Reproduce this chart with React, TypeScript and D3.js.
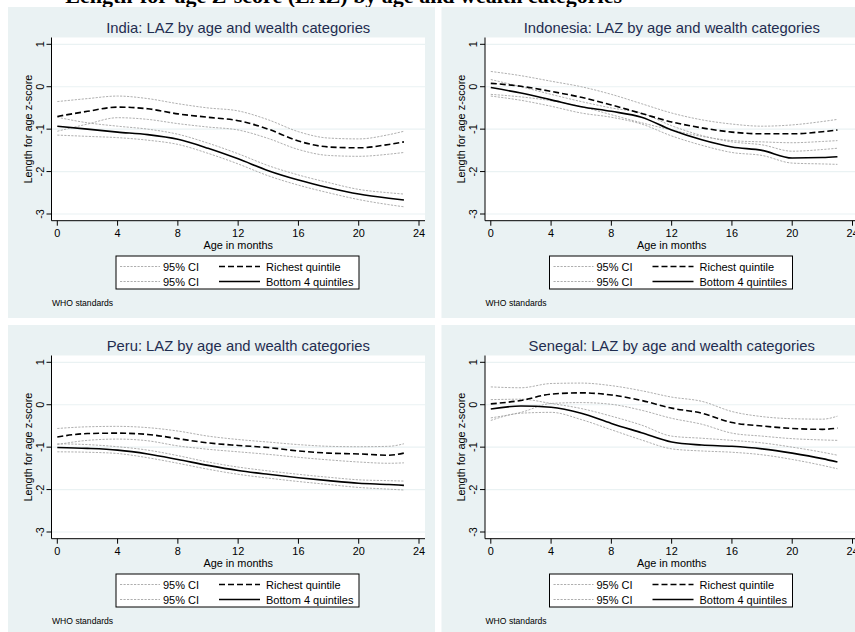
import React from "react";
import * as d3 from "d3";

// ages (months) at which the smoothed curves were read
const months = [0, 2, 4, 6, 8, 10, 12, 14, 16, 18, 20, 22, 23];
const xTicks = [0, 4, 8, 12, 16, 20, 24];
const yTicks = [1, 0, -1, -2, -3];

const panelTitles = [
  "India: LAZ by age and wealth categories",
  "Indonesia: LAZ by age and wealth categories",
  "Peru: LAZ by age and wealth categories",
  "Senegal: LAZ by age and wealth categories",
];

// India
const indiaRichHi = [-0.35, -0.28, -0.22, -0.28, -0.4, -0.5, -0.57, -0.78, -1.06, -1.21, -1.23, -1.13, -1.05];
const indiaRich = [-0.7, -0.58, -0.48, -0.52, -0.64, -0.72, -0.8, -1.0, -1.28, -1.42, -1.44, -1.36, -1.3];
const indiaRichLo = [-1.05, -0.88, -0.73, -0.77, -0.87, -0.95, -1.02, -1.22, -1.48, -1.62, -1.64, -1.59, -1.55];
const indiaBotHi = [-0.72, -0.85, -0.93, -1.0, -1.12, -1.33, -1.58, -1.86, -2.08, -2.26, -2.42, -2.5, -2.53];
const indiaBot = [-0.93, -1.0, -1.07, -1.13, -1.24, -1.45, -1.7, -1.98, -2.2, -2.38, -2.53, -2.63, -2.67];
const indiaBotLo = [-1.14, -1.17, -1.2, -1.26, -1.36, -1.57, -1.82, -2.1, -2.32, -2.5, -2.66, -2.78, -2.83];

// Indonesia
const indoRichHi = [0.36, 0.26, 0.13, 0.0, -0.18, -0.4, -0.62, -0.78, -0.88, -0.93, -0.9, -0.82, -0.77];
const indoRich = [0.08, 0.01, -0.11, -0.25, -0.43, -0.63, -0.83, -0.97, -1.07, -1.11, -1.11, -1.06, -1.02];
const indoRichLo = [-0.18, -0.24, -0.33, -0.47, -0.66, -0.85, -1.02, -1.17, -1.27, -1.3, -1.32, -1.29, -1.27];
const indoBotHi = [0.17, 0.0, -0.18, -0.35, -0.5, -0.62, -0.92, -1.15, -1.3, -1.37, -1.52, -1.48, -1.45];
const indoBot = [-0.02, -0.15, -0.31, -0.47, -0.58, -0.72, -1.02, -1.25, -1.42, -1.5, -1.68, -1.67, -1.65];
const indoBotLo = [-0.22, -0.32, -0.46, -0.62, -0.72, -0.88, -1.16, -1.38, -1.55, -1.62, -1.8, -1.82, -1.83];

// Peru
const peruRichHi = [-0.56, -0.52, -0.51, -0.54, -0.62, -0.74, -0.82, -0.88, -0.94, -0.98, -0.99, -0.98, -0.92];
const peruRich = [-0.76, -0.68, -0.67, -0.7, -0.8, -0.9, -0.96, -1.01, -1.09, -1.14, -1.16, -1.19, -1.14];
const peruRichLo = [-0.94, -0.84, -0.81, -0.85, -0.97, -1.05, -1.11, -1.17, -1.24, -1.3, -1.35, -1.38, -1.37];
const peruBotHi = [-0.92, -0.94, -0.99, -1.07, -1.2, -1.35, -1.47, -1.56, -1.64, -1.71, -1.77, -1.79, -1.8];
const peruBot = [-1.01, -1.03, -1.07, -1.16, -1.29, -1.43, -1.55, -1.64, -1.72, -1.79, -1.85, -1.88, -1.9];
const peruBotLo = [-1.11, -1.12, -1.15, -1.25, -1.38, -1.52, -1.64, -1.73, -1.81, -1.88, -1.95, -1.99, -2.01];

// Senegal
const senRichHi = [0.42, 0.4, 0.5, 0.51, 0.45, 0.33, 0.18, 0.08, -0.16, -0.28, -0.33, -0.34, -0.27];
const senRich = [0.02, 0.1, 0.25, 0.28, 0.23, 0.1, -0.08, -0.2, -0.42, -0.5, -0.56, -0.58, -0.55];
const senRichLo = [-0.31, -0.18, 0.03, 0.05, 0.01, -0.13, -0.32, -0.46, -0.67, -0.74, -0.8, -0.83, -0.84];
const senBotHi = [0.12, 0.13, 0.03, -0.09, -0.27, -0.48, -0.74, -0.79, -0.84, -0.9, -1.0, -1.12, -1.19];
const senBot = [-0.1, -0.03, -0.06, -0.2, -0.44, -0.66, -0.88, -0.95, -0.98, -1.04, -1.14, -1.27, -1.35];
const senBotLo = [-0.37, -0.2, -0.18, -0.35, -0.59, -0.83, -1.04, -1.09, -1.12, -1.18, -1.29, -1.43, -1.51];

const panels = [
  { title: panelTitles[0], x: 8, y: 7, ci: [indiaRichHi, indiaRichLo, indiaBotHi, indiaBotLo], rich: indiaRich, bot: indiaBot },
  { title: panelTitles[1], x: 441.5, y: 7, ci: [indoRichHi, indoRichLo, indoBotHi, indoBotLo], rich: indoRich, bot: indoBot },
  { title: panelTitles[2], x: 8, y: 325, ci: [peruRichHi, peruRichLo, peruBotHi, peruBotLo], rich: peruRich, bot: peruBot },
  { title: panelTitles[3], x: 441.5, y: 325, ci: [senRichHi, senRichLo, senBotHi, senBotLo], rich: senRich, bot: senBot },
];

const BG = "#eaf2f3";
const FONT = "'Liberation Sans', Arial, sans-serif";
const CI_COLOR = "#a6a6a6";

const W = 427;
const H = 311;
const plot = { left: 43.5, right: 417, top: 30.5, bottom: 213.7 };

const xScale = d3.scaleLinear().domain([0, 24]).range([49.3, 411]);
const yScale = d3.scaleLinear().domain([-3, 1]).range([207, 37.3]);

const line = d3
  .line<number>()
  .x((_, i) => xScale(months[i]))
  .y((v) => yScale(v))
  .curve(d3.curveMonotoneX);

function Panel({ p }: { p: (typeof panels)[number] }) {
  const plotMidY = (plot.top + plot.bottom) / 2;
  const lx = 108; // legend box left
  return (
    <g transform={`translate(${p.x},${p.y})`}>
      <rect width={W} height={H} fill={BG} />
      <text x={(plot.left + plot.right) / 2} y={25.8} textAnchor="middle" fontSize={14.8} fill="#1f2d50" fontFamily={FONT}>
        {p.title}
      </text>
      <rect x={plot.left} y={plot.top} width={plot.right - plot.left} height={plot.bottom - plot.top} fill="#fff" />
      {yTicks.map((t) => (
        <line key={t} x1={plot.left} x2={plot.right} y1={yScale(t)} y2={yScale(t)} stroke={BG} strokeWidth={1.2} />
      ))}

      {p.ci.map((s, i) => (
        <path key={i} d={line(s) || ""} fill="none" stroke={CI_COLOR} strokeWidth={0.9} strokeDasharray="2.2 1.3" />
      ))}
      <path d={line(p.rich) || ""} fill="none" stroke="#000" strokeWidth={1.6} strokeDasharray="6 3" />
      <path d={line(p.bot) || ""} fill="none" stroke="#000" strokeWidth={1.6} />

      {/* y axis */}
      <line x1={plot.left} x2={plot.left} y1={plot.top} y2={plot.bottom} stroke="#000" strokeWidth={1} />
      {yTicks.map((t) => (
        <g key={t}>
          <line x1={plot.left - 5} x2={plot.left} y1={yScale(t)} y2={yScale(t)} stroke="#000" strokeWidth={1} />
          <text
            transform={`translate(${plot.left - 8},${yScale(t)}) rotate(-90)`}
            textAnchor="middle"
            fontSize={10.9}
            fontFamily={FONT}
          >
            {t}
          </text>
        </g>
      ))}
      <text
        transform={`translate(${plot.left - 20},${plotMidY}) rotate(-90)`}
        textAnchor="middle"
        fontSize={10.9}
        fontFamily={FONT}
      >
        Length for age z-score
      </text>

      {/* x axis */}
      <line x1={plot.left} x2={plot.right} y1={plot.bottom} y2={plot.bottom} stroke="#000" strokeWidth={1} />
      {xTicks.map((t) => (
        <g key={t}>
          <line x1={xScale(t)} x2={xScale(t)} y1={plot.bottom} y2={plot.bottom + 5} stroke="#000" strokeWidth={1} />
          <text x={xScale(t)} y={plot.bottom + 16.5} textAnchor="middle" fontSize={10.9} fontFamily={FONT}>
            {t}
          </text>
        </g>
      ))}
      <text x={(plot.left + plot.right) / 2} y={plot.bottom + 28} textAnchor="middle" fontSize={10.9} fontFamily={FONT}>
        Age in months
      </text>

      {/* legend */}
      <rect x={lx} y={249} width={243} height={33} fill="#fff" stroke="#000" strokeWidth={1} />
      {[0, 1].map((r) => (
        <g key={r} transform={`translate(0,${259.5 + r * 15})`}>
          <line x1={lx + 4} x2={lx + 44} y1={0} y2={0} stroke={CI_COLOR} strokeWidth={0.9} strokeDasharray="2.2 1.3" />
          <text x={lx + 83} y={4} textAnchor="end" fontSize={11} fontFamily={FONT}>
            95% CI
          </text>
          <line
            x1={lx + 103}
            x2={lx + 144}
            y1={0}
            y2={0}
            stroke="#000"
            strokeWidth={1.6}
            strokeDasharray={r === 0 ? "6 3" : undefined}
          />
          <text x={lx + 150} y={4} fontSize={11} fontFamily={FONT}>
            {r === 0 ? "Richest quintile" : "Bottom 4 quintiles"}
          </text>
        </g>
      ))}
      <text x={44} y={299} fontSize={8.6} fontFamily={FONT}>
        WHO standards
      </text>
    </g>
  );
}

export default function App() {
  return (
    <svg
      width={855}
      height={632}
      style={{ position: "absolute", left: 0, top: 0, background: "#fff" }}
    >
      <text
        x={622}
        y={3}
        textAnchor="end"
        fontSize={22}
        fontWeight="bold"
        fontFamily="'Liberation Serif', 'Times New Roman', serif"
      >
        Length-for-age Z-score (LAZ) by age and wealth categories
      </text>
      {panels.map((p) => (
        <Panel key={p.title} p={p} />
      ))}
    </svg>
  );
}
